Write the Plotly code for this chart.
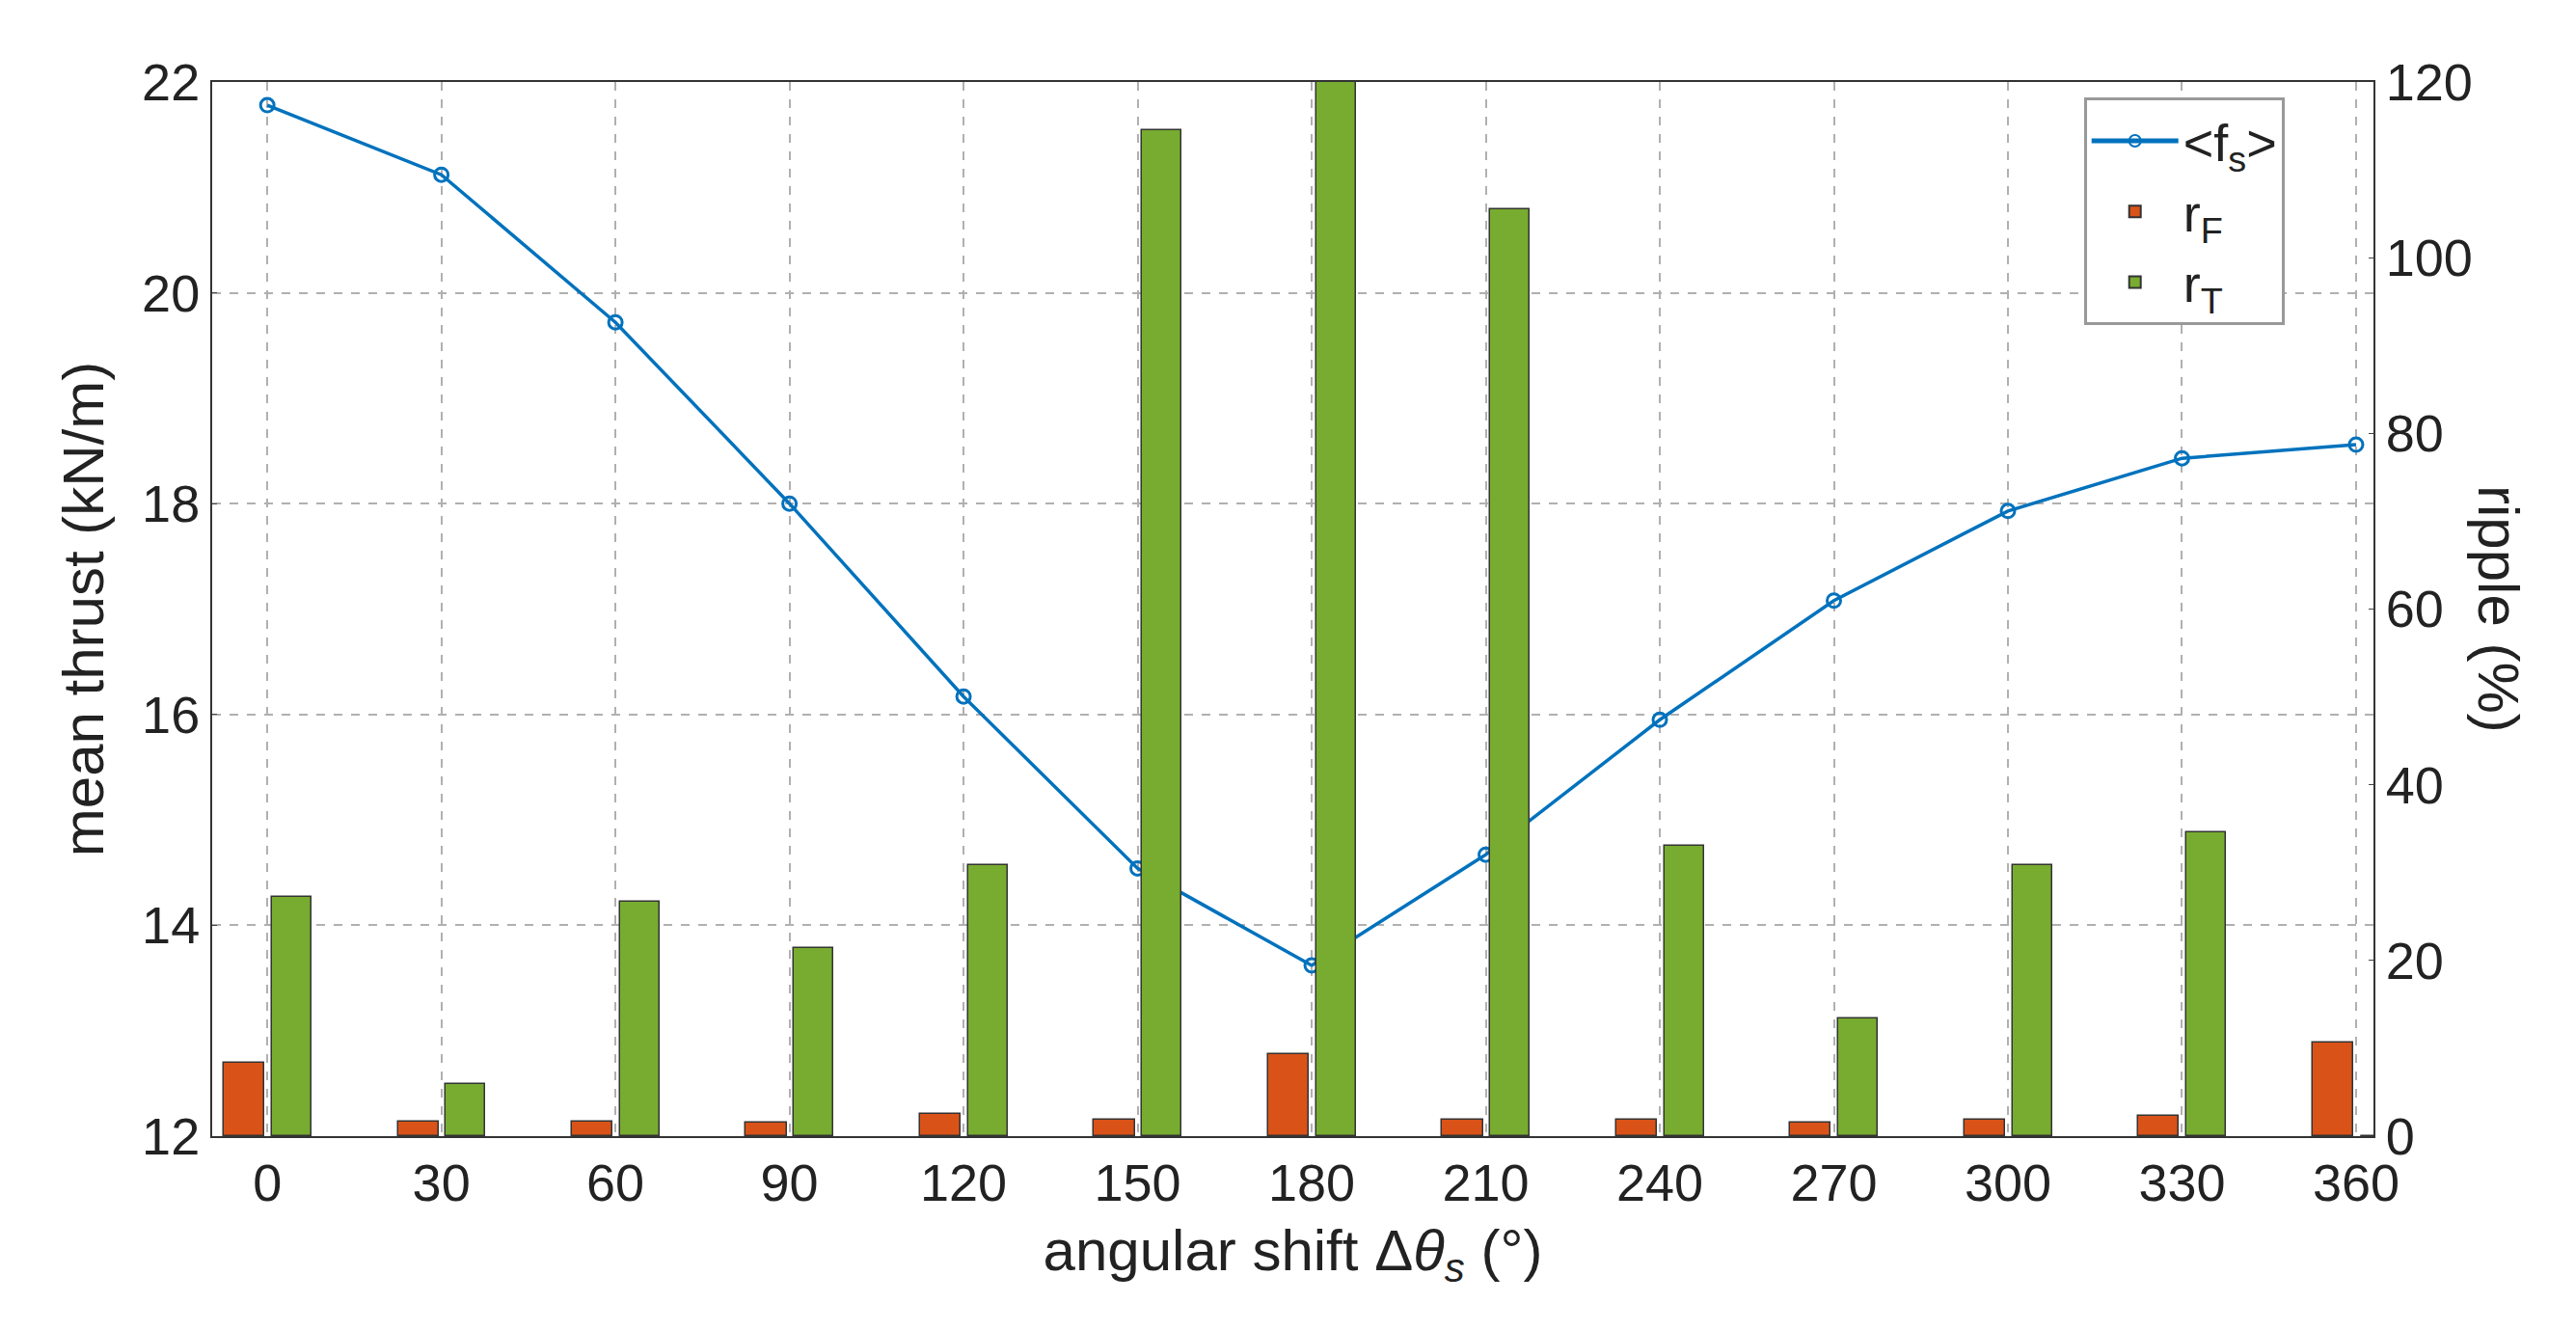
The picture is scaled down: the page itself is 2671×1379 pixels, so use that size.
import plotly.graph_objects as go

angles = [0, 30, 60, 90, 120, 150, 180, 210, 240, 270, 300, 330, 360]
mean_thrust = [21.78, 21.12, 19.72, 18.0, 16.17, 14.54, 13.62, 14.67, 15.95, 17.08, 17.93, 18.43, 18.56]
r_F = [8.3, 1.7, 1.7, 1.5, 2.5, 1.9, 9.3, 1.9, 1.9, 1.5, 1.9, 2.3, 10.6]
r_T = [27.2, 5.9, 26.7, 21.4, 30.8, 114.5, 125, 105.5, 33.0, 13.4, 30.8, 34.6, 0]
x_ticks = list(range(0, 361, 30))

font = "Liberation Sans, Arial, sans-serif"
fig = go.Figure()
fig.add_trace(go.Scatter(x=angles, y=mean_thrust, mode="lines+markers", name="&lt;f<sub>s</sub>&gt;",
                         line=dict(color="#0072BD", width=3.5),
                         marker=dict(symbol="circle-open", size=14, color="#0072BD", line=dict(width=3)),
                         yaxis="y"))
fig.add_trace(go.Bar(x=[a - 4 for a in angles], y=r_F, width=7, name="r<sub>F</sub>",
                     marker=dict(color="#D95319", line=dict(color="#333", width=1.5)), yaxis="y2"))
fig.add_trace(go.Bar(x=[a + 4.2 for a in angles], y=r_T, width=6.8, name="r<sub>T</sub>",
                     marker=dict(color="#77AC30", line=dict(color="#333", width=1.5)), yaxis="y2"))

grid = dict(showgrid=True, gridcolor="#b0b0b0", griddash="dash", gridwidth=2)
fig.update_layout(
    width=2671, height=1379, plot_bgcolor="white", paper_bgcolor="white",
    margin=dict(l=212, r=218, t=77, b=209),
    font=dict(family=font, size=54, color="#222"),
    barmode="overlay", bargap=0,
    xaxis=dict(range=[-9.5, 363], tickvals=x_ticks, ticks="", showline=True, mirror=True,
               linecolor="#333", linewidth=2, tickfont=dict(size=54),
               title=dict(text="angular shift Δ<i>θ<sub>s</sub></i> (°)", font=dict(size=60), standoff=20), **grid),
    yaxis=dict(range=[12, 22], dtick=2, ticks="inside", showline=True, linecolor="#333", linewidth=2,
               tickfont=dict(size=54), title=dict(text="mean thrust (kN/m)", font=dict(size=60), standoff=20), **grid),
    yaxis2=dict(range=[0, 120], dtick=20, overlaying="y", side="right", showgrid=False, ticks="inside",
                showline=True, linecolor="#333", linewidth=2, tickfont=dict(size=54)),
    legend=dict(x=0.866, y=0.985, xanchor="left", yanchor="top", bgcolor="white",
                bordercolor="#999", borderwidth=3, font=dict(size=54), tracegroupgap=20,
                itemwidth=90, itemsizing="constant"),
    annotations=[dict(text="ripple (%)", textangle=90, x=1.0, xref="paper", xshift=165,
                      y=0.5, yref="paper", showarrow=False, font=dict(size=60, family=font, color="#222"))],
)
fig.write_html("out.html")
